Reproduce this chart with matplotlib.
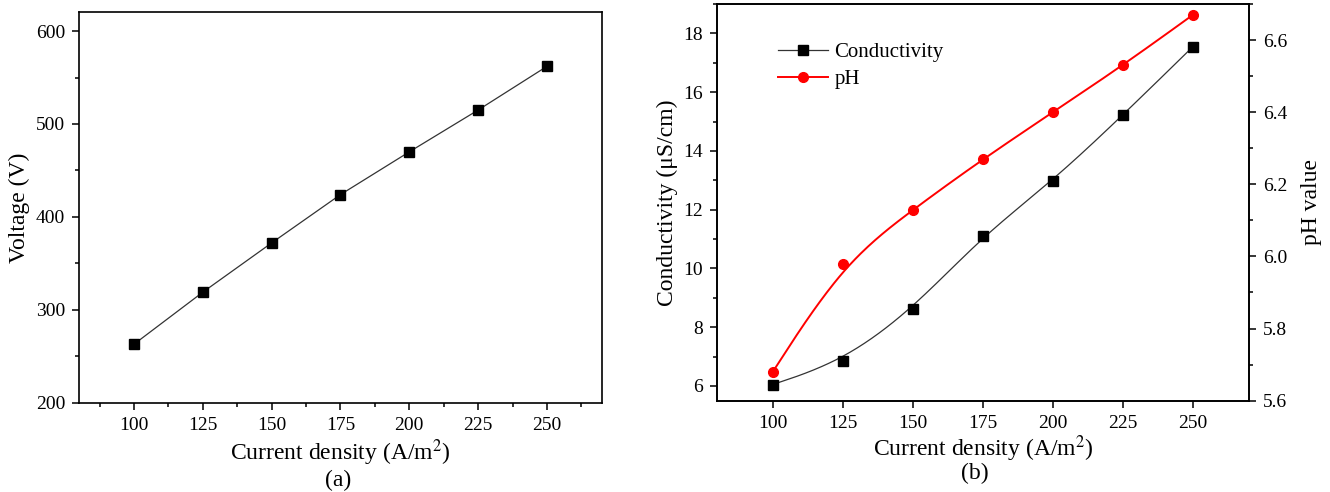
import numpy as np
import matplotlib
matplotlib.use('Agg')
import matplotlib.pyplot as plt
from matplotlib.ticker import MultipleLocator

plt.rcParams['font.family'] = ['Liberation Serif', 'DejaVu Serif']
plt.rcParams['mathtext.fontset'] = 'stix'

# data
current_density = [100, 125, 150, 175, 200, 225, 250]
voltage = [263, 319, 372, 424, 470, 515, 562]
conductivity = [6.05, 6.85, 8.62, 11.12, 12.98, 15.22, 17.55]
ph = [5.68, 5.98, 6.13, 6.27, 6.40, 6.53, 6.67]


def bspline(xs, ys, n=40):
    # uniform cubic B-spline, endpoints clamped (like the Origin B-spline line)
    P = np.column_stack([xs, ys]).astype(float)
    P = np.vstack([P[0], P[0], P, P[-1], P[-1]])
    t = np.linspace(0, 1, n)
    b0 = (1 - t)**3 / 6
    b1 = (3*t**3 - 6*t**2 + 4) / 6
    b2 = (-3*t**3 + 3*t**2 + 3*t + 1) / 6
    b3 = t**3 / 6
    segs = []
    for i in range(len(P) - 3):
        seg = (b0[:, None]*P[i] + b1[:, None]*P[i+1]
               + b2[:, None]*P[i+2] + b3[:, None]*P[i+3])
        segs.append(seg)
    out = np.vstack(segs)
    return out[:, 0], out[:, 1]


def style_ax(ax):
    ax.tick_params(which='both', direction='out', labelsize=14, width=1.1, pad=5)
    ax.tick_params(which='major', length=5)
    ax.tick_params(which='minor', length=3)
    for s in ax.spines.values():
        s.set_linewidth(1.2)


fig = plt.figure(figsize=(13.3, 4.92), dpi=100)

# ---------------- (a) voltage
ax1 = fig.add_axes([0.0594, 0.1815, 0.3932, 0.7931])
ax1.plot(current_density, voltage, color='#333333', lw=0.9,
         marker='s', ms=6.5, mfc='black', mec='black')
ax1.set_xlim(80, 270)
ax1.set_ylim(200, 620)
ax1.xaxis.set_minor_locator(MultipleLocator(12.5))
ax1.yaxis.set_major_locator(MultipleLocator(100))
ax1.yaxis.set_minor_locator(MultipleLocator(50))
ax1.set_xticks([100, 125, 150, 175, 200, 225, 250])
style_ax(ax1)
ax1.set_xlabel('Current density (A/m$^2$)', fontsize=17, labelpad=3)
ax1.set_ylabel('Voltage (V)', fontsize=17, labelpad=4)

# ---------------- (b) conductivity + pH
ax2 = fig.add_axes([0.5389, 0.1856, 0.4002, 0.8063])
ax3 = ax2.twinx()

cx, cy = bspline(current_density, conductivity)
ax2.plot(cx, cy, color='#333333', lw=0.9)
ax2.plot(current_density, conductivity, ls='none', marker='s', ms=6.5,
         mfc='black', mec='black')

px, py = bspline(current_density, ph)
ax3.plot(px, py, color='red', lw=1.4)
ax3.plot(current_density, ph, ls='none', marker='o', ms=7,
         mfc='red', mec='red')

ax2.set_xlim(80, 270)
ax2.set_ylim(5.5, 19)
ax3.set_ylim(5.6, 6.7)
ax2.set_xticks([100, 125, 150, 175, 200, 225, 250])
ax2.yaxis.set_major_locator(MultipleLocator(2))
ax2.yaxis.set_minor_locator(MultipleLocator(1))
ax3.yaxis.set_minor_locator(MultipleLocator(0.1))
ax3.set_yticks([5.6, 5.8, 6.0, 6.2, 6.4, 6.6])
ax3.set_yticklabels(['5.6', '5.8', '6.0', '6.2', '6.4', '6.6'])
style_ax(ax2)
style_ax(ax3)
ax2.set_xlabel('Current density (A/m$^2$)', fontsize=17, labelpad=1)
ax2.set_ylabel('Conductivity (\u03bcS/cm)', fontsize=17, labelpad=4)
ax3.set_ylabel('pH value', fontsize=17, labelpad=10)

h1 = ax2.plot([], [], color='#333333', lw=0.9, marker='s', ms=6.5,
              mfc='black', mec='black', label='Conductivity')[0]
h2 = ax2.plot([], [], color='red', lw=1.4, marker='o', ms=7,
              mfc='red', mec='red', label='pH')[0]
ax2.legend(handles=[h1, h2], loc='upper left', bbox_to_anchor=(0.08, 0.95),
           frameon=False, fontsize=15, handlelength=2.4, handletextpad=0.3,
           labelspacing=0.35)

fig.text(338 / 1330, 1 - 480 / 492, '(a)', ha='center', va='center', fontsize=17)
fig.text(975 / 1330, 1 - 473 / 492, '(b)', ha='center', va='center', fontsize=17)

fig.savefig('out.png', dpi=100)
